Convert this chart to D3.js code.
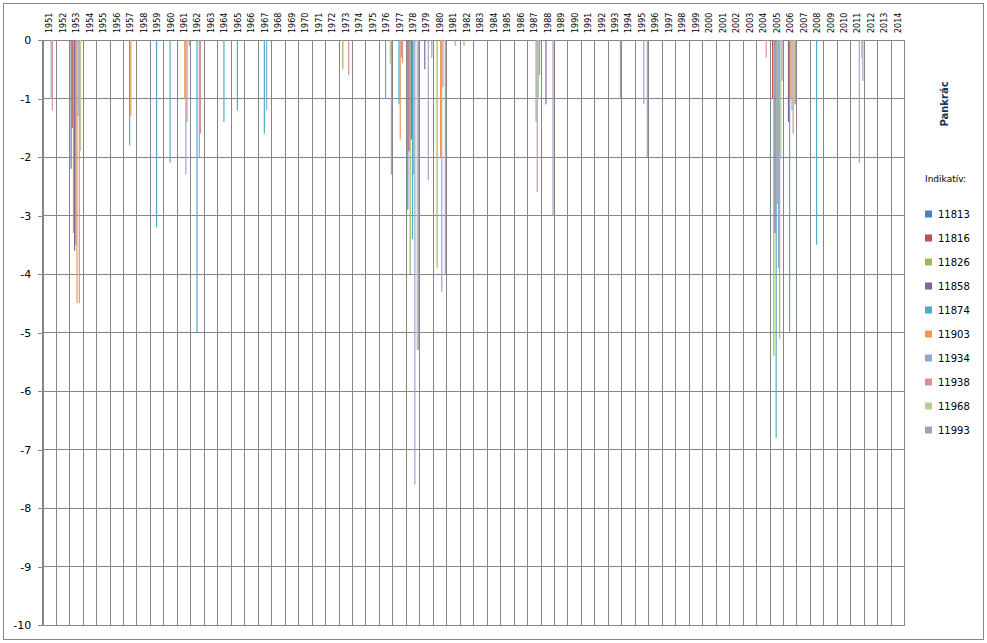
<!DOCTYPE html>
<html><head><meta charset="utf-8">
<script src="https://cdn.jsdelivr.net/npm/d3@7"></script>
<style>body{margin:0;background:#fff}svg{display:block}text{font-family:"DejaVu Sans",Verdana,sans-serif}</style>
</head><body>
<svg id="chart" width="987" height="643"></svg>
<script>
// ---- data ----
const years = ["1951","1952","1953","1954","1955","1956","1957","1958","1959","1960","1961","1962","1963","1964","1965","1966","1967","1968","1969","1970","1971","1972","1973","1974","1975","1976","1977","1978","1979","1980","1981","1982","1983","1984","1985","1986","1987","1988","1989","1990","1991","1992","1993","1994","1995","1996","1997","1998","1999","2000","2001","2002","2003","2004","2005","2006","2007","2008","2009","2010","2011","2012","2013","2014"];
const seriesNames = ["11813","11816","11826","11858","11874","11903","11934","11938","11968","11993"];
const seriesColors = ["#4F81BD","#C0504D","#9BBB59","#8064A2","#4BACC6","#F79646","#92A9D1","#D69392","#B9CD96","#A99BBD"];
const yTicks = [0,-1,-2,-3,-4,-5,-6,-7,-8,-9,-10];
const chartTitle = "Pankrác";
const legendTitle = "Indikatív:";

const v11813 = [[1953,-2.2],[1978,-2.9]];
const v11816 = [[1953,-1.5],[1978,-1.9],[2005,-1.0]];
const v11826 = [[1953,-3.3],[1973,-0.5],[1978,-4.0],[1980,-3.9],[1982,-0.1],[2005,-5.4]];
const v11858 = [[1953,-3.6],[1978,-1.7],[1979,-0.5],[1988,-1.1],[2005,-3.3],[2006,-1.4]];
const v11874 = [[1953,-3.5],[1957,-1.8],[1959,-3.2],[1960,-2.1],[1962,-5.0],[1964,-1.4],[1965,-1.2],[1967,-1.6],[1976,-1.0],[1977,-1.1],[1978,-3.4],[2005,-6.8],[2006,-5.0],[2008,-3.5]];
const v11903 = [[1953,-4.5],[1957,-1.3],[1961,-1.0],[1977,-1.7],[1978,-2.3],[1980,-2.0],[2005,-2.8],[2006,-1.0]];
const v11934 = [[1951,-1.0],[1953,-1.3],[1961,-2.3],[1962,-2.0],[1967,-1.2],[1977,-0.3],[1978,-7.6],[1979,-2.4],[1980,-4.3],[1981,-0.1],[1987,-1.4],[1995,-1.1],[2005,-3.9],[2006,-1.2],[2011,-2.1]];
const v11938 = [[1951,-1.2],[1953,-4.5],[1961,-1.4],[1962,-1.6],[1973,-0.6],[1977,-0.4],[1980,-0.8],[1987,-2.6],[2004,-0.3],[2005,-5.1],[2006,-1.6]];
const v11968 = [[1953,-1.9],[1976,-0.4],[1978,-5.3],[1987,-1.0],[2005,-2.0],[2006,-1.1],[2011,-0.3]];
const v11993 = [[1961,-0.1],[1976,-2.3],[1978,-5.3],[1979,-0.3],[1980,-4.0],[1987,-0.6],[1988,-3.0],[1993,-1.0],[1995,-2.0],[2005,-0.7],[2006,-1.1],[2011,-0.7]];

const seriesValues = [v11813,v11816,v11826,v11858,v11874,v11903,v11934,v11938,v11968,v11993];
const series = seriesNames.map((name,i)=>({name, color:seriesColors[i], values:seriesValues[i]}));

// ---- layout ----
const svg = d3.select("#chart");
const plot = {left:42.7, right:904.7, top:40, bottom:625};
const gridColor = "#868686";

svg.append("rect").attr("x",3.5).attr("y",3.5).attr("width",980).attr("height",636)
  .attr("fill","#fff").attr("stroke",gridColor).attr("stroke-width",1);

const x0 = d3.scaleBand().domain(years).range([plot.left, plot.right]);
const x1 = d3.scaleBand().domain(seriesNames).range([0, x0.bandwidth()]).paddingOuter(0.75);
const y = d3.scaleLinear().domain([0,-10]).range([plot.top, plot.bottom]);

// horizontal gridlines
svg.append("g").selectAll("line").data(yTicks).join("line")
  .attr("x1",plot.left).attr("x2",plot.right)
  .attr("y1",d=>y(d)).attr("y2",d=>y(d))
  .attr("stroke",gridColor).attr("stroke-width",1).attr("shape-rendering","crispEdges");

// vertical category gridlines
const bounds = years.map(d=>x0(d)).concat([plot.right]);
svg.append("g").selectAll("line").data(bounds).join("line")
  .attr("x1",d=>d).attr("x2",d=>d)
  .attr("y1",plot.top).attr("y2",plot.bottom)
  .attr("stroke",gridColor).attr("stroke-width",1).attr("shape-rendering","crispEdges");

// bars
const gBars = svg.append("g");
series.forEach(s=>{
  gBars.append("g").attr("fill",s.color).selectAll("rect").data(s.values).join("rect")
    .attr("x",d=>x0(String(d[0]))+x1(s.name))
    .attr("width",x1.bandwidth())
    .attr("y",y(0))
    .attr("height",d=>y(d[1])-y(0));
});

// y axis
const yAxis = svg.append("g").attr("transform",`translate(${plot.left},0)`)
  .call(d3.axisLeft(y).tickValues(yTicks).tickSize(5).tickPadding(6.5).tickFormat(d=>String(d)));
yAxis.select(".domain").attr("stroke",gridColor).attr("shape-rendering","crispEdges");
yAxis.selectAll(".tick line").attr("stroke",gridColor).attr("shape-rendering","crispEdges");
yAxis.selectAll("text").attr("font-size",11).attr("fill","#000").style("font-family","'DejaVu Sans',sans-serif");

// x axis (top) with rotated labels
const xAxis = svg.append("g").attr("transform",`translate(0,${plot.top})`)
  .call(d3.axisTop(x0).tickSize(0));
xAxis.select(".domain").remove();
xAxis.selectAll("text")
  .attr("transform","rotate(-90)")
  .attr("x",7).attr("y",0).attr("dy","0.36em")
  .style("text-anchor","start")
  .attr("font-size",8).attr("fill","#000").style("font-family","'DejaVu Sans',sans-serif");

// title (rotated)
svg.append("text").attr("transform","translate(944,104) rotate(-90)")
  .attr("text-anchor","middle").attr("dy","0.35em")
  .attr("font-size",10).attr("font-weight","bold").attr("fill","#17365D")
  .text(chartTitle);

// legend
svg.append("text").attr("x",925).attr("y",179).attr("dy","0.35em")
  .attr("font-size",9).attr("fill","#000").text(legendTitle);
const leg = svg.append("g").selectAll("g").data(series).join("g")
  .attr("transform",(d,i)=>`translate(925,${214+24*i})`);
leg.append("rect").attr("x",0).attr("y",-3.5).attr("width",7).attr("height",7).attr("fill",d=>d.color);
leg.append("text").attr("x",13).attr("y",0).attr("dy","0.35em").attr("font-size",10).attr("fill","#000").text(d=>d.name);
</script>
</body></html>
